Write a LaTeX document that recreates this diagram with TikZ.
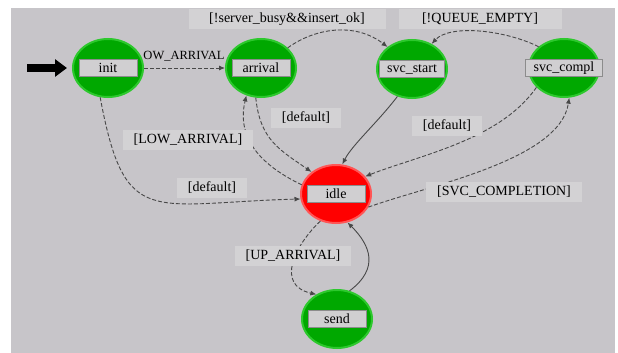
\documentclass[tikz,border=0pt]{standalone}
\usepackage{fontspec}
\setmainfont{Liberation Serif}
\usepackage[usenames,dvipsnames]{xcolor}
\usepackage{tikz}
\usetikzlibrary{arrows.meta, shapes}

\definecolor{canvas}{RGB}{199,197,201}
\definecolor{tagfill}{RGB}{208,207,209}
\definecolor{guardfill}{RGB}{211,210,212}
\definecolor{okgreen}{RGB}{0,168,0}
\definecolor{okgreenrim}{RGB}{45,200,45}
\definecolor{idlered}{RGB}{255,0,0}
\definecolor{idleredrim}{RGB}{255,85,85}
\definecolor{wire}{RGB}{72,72,72}

\begin{document}
\begin{tikzpicture}[x=1pt, y=-1pt, >={Latex[length=6pt,width=5pt]},
  font=\fontsize{14}{16}\selectfont,
  state/.style={ellipse, draw=okgreenrim, line width=2pt, fill=okgreen,
    minimum width=70pt, minimum height=58pt, inner sep=0pt},
  %
  hotstate/.style={state, draw=idleredrim, fill=idlered},
  %
  tag/.style={rectangle, draw=black!45, line width=1pt, fill=tagfill,
    minimum width=58pt, minimum height=17pt, inner xsep=8pt, inner ysep=1pt},
  %
  guard/.style={rectangle, fill=guardfill, minimum height=20pt,
    inner xsep=11pt, inner ysep=1pt},
  %
  cond/.style={->, wire, line width=0.9pt, dash pattern=on 4pt off 2pt},
  %
  always/.style={->, wire, line width=0.9pt}
  ]

  \useasboundingbox (0,0) rectangle (618,353);
  \fill [canvas] (11,8) rectangle (615,353);

  \begin{scope}
    %%%%%%%%%%%%%%%%%%%%%%%%%%%%%%%
    \node [state] (init) at (108,68) {};
    \node [tag] (init tag) at (init) {init};
    \node [state] (arrival) at (261,68) {};
    \node [tag] (arrival tag) at (arrival) {arrival};
    \node [state] (svc_start) at (412,69) {};
    \node [tag] (svc_start tag) at (svc_start) {svc\_start};
    \node [state] (svc_compl) at (564,68) {};
    \node [tag] (svc_compl tag) at (svc_compl) {svc\_compl};
    %%%%%%%%%%%%%%%%%%%%%%%%%%%%%%%
    \node [hotstate] (idle) at (336,194) {};
    \node [tag] (idle tag) at (idle) {idle};
    %%%%%%%%%%%%%%%%%%%%%%%%%%%%%%%
    \node [state] (send) at (337,319) {};
    \node [tag] (send tag) at (send) {send};
  \end{scope}

  \begin{scope}
    \coordinate (entry) at (27,68);
    \draw [line width=7pt, shorten >=5pt,
      -{Triangle[length=12pt,width=17pt]}] (entry) -- (init.west);
    %
    \draw [cond] (init.east) -- (arrival.west);
    \draw [cond] (arrival.37) .. controls (315,28) and (355,22) .. (svc_start.138);
    \draw [cond] (svc_compl.140) .. controls (505,30) and (450,24) .. (svc_start.52);
    \draw [cond] (arrival.-100) .. controls (260,140) and (280,150) .. (idle.138);
    \draw [cond] (idle.165) .. controls (250,160) and (238,130) .. (arrival.-118);
    \draw [always] (svc_start.-118) .. controls (378,122) and (352,145) .. (idle.78);
    \draw [cond] (svc_compl.-145) .. controls (500,140) and (420,155) .. (idle.31);
    \draw [cond] (idle.-22) .. controls (430,185) and (560,160) .. (svc_compl.-80);
    \draw [cond] (init.-105) .. controls (125,230) and (150,203) .. (idle.188);
    \draw [cond] (idle.-120) .. controls (295,245) and (275,285) .. (send.130);
    \draw [always] (send.66) .. controls (380,268) and (370,245) .. (idle.-68);
  \end{scope}

  \begin{scope}
    \node [inner sep=0pt, font=\fontsize{12.5}{14}\selectfont] (low tag)
      at (184,56) {OW\_ARRIVAL};
    \node [guard, minimum width=197pt] (busy guard) at (287,19)
      {[!server\_busy\&\&insert\_ok]};
    \node [guard, minimum width=163pt] (queue guard) at (480,19)
      {[!QUEUE\_EMPTY]};
    \node [guard] (arrival guard) at (306,118) {[default]};
    \node [guard] (low guard) at (188,140) {[LOW\_ARRIVAL]};
    \node [guard] (compl guard) at (447,126) {[default]};
    \node [guard] (init guard) at (212,188) {[default]};
    \node [guard] (svc guard) at (504,192) {[SVC\_COMPLETION]};
    \node [guard] (up guard) at (293,256) {[UP\_ARRIVAL]};
  \end{scope}

\end{tikzpicture}
\end{document}
